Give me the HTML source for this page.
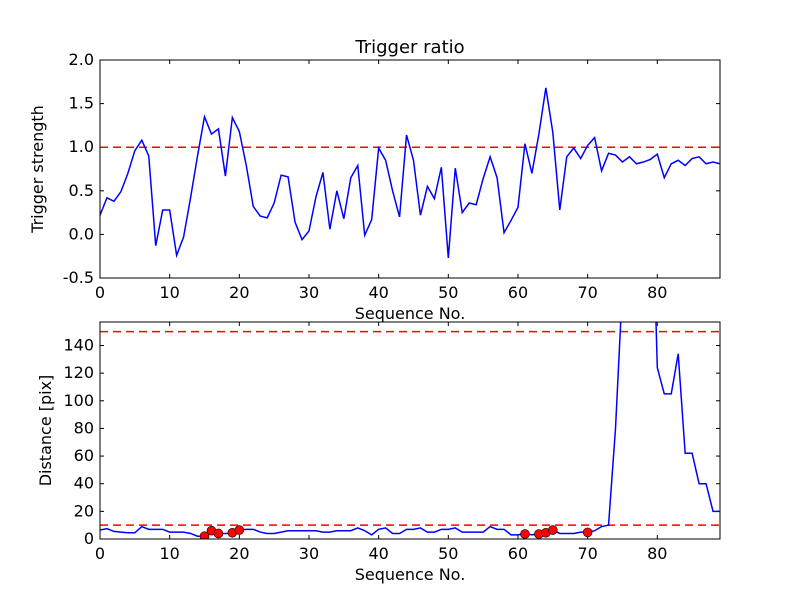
<!DOCTYPE html>
<html><head><meta charset="utf-8"><style>
body{margin:0;background:#fff}
svg{display:block;font-family:"DejaVu Sans","Liberation Sans",sans-serif}
</style></head><body>
<svg id="chart" width="800" height="600" xmlns="http://www.w3.org/2000/svg">
<rect width="800" height="600" fill="#fff"/>
<text x="410" y="53" font-size="18" text-anchor="middle">Trigger ratio</text>
<g id="top"></g>
<g id="bot"></g>
</svg>
<script>
const seqTop = Array.from({length:90},(_,i)=>i);
const triggerStrength = [0.22,0.42,0.38,0.49,0.7,0.96,1.08,0.9,-0.13,0.28,0.28,-0.24,-0.03,0.42,0.9,1.35,1.15,1.21,0.67,1.34,1.18,0.79,0.32,0.21,0.19,0.36,0.68,0.66,0.14,-0.06,0.04,0.43,0.71,0.06,0.5,0.18,0.65,0.79,-0.01,0.17,0.99,0.85,0.5,0.2,1.14,0.85,0.22,0.55,0.41,0.77,-0.27,0.76,0.25,0.36,0.34,0.64,0.89,0.65,0.02,0.16,0.31,1.04,0.7,1.15,1.68,1.17,0.28,0.89,0.99,0.87,1.02,1.11,0.73,0.93,0.91,0.83,0.89,0.81,0.83,0.86,0.92,0.65,0.81,0.85,0.79,0.87,0.89,0.81,0.83,0.81];
const distance = [6.5,7.5,5.5,5,4.5,4.5,9,7,7,7,5,5,5,4,2,2,6,4,4,4,6.5,7,7,5,4,4,5,6,6,6,6,6,5,5,6,6,6,8,6,3,7,8,4,4,7,7,8,5,5,7,7,8,5,5,5,5,9,7,7,3,3,4,3,4,4,6.5,4,4,4,5,5,6,9,10,80,183,190,158,158,300,124,105,105,134,62,62,40,40,20,20];
const markerSeq = [15,16,17,19,20,61,63,64,65,70];
const markerDist = [2,6,4,4.5,6.5,3.6,3.6,4.5,6.5,4.8];
const topTicksY = [-0.5,0.0,0.5,1.0,1.5,2.0];
const botTicksY = [0,20,40,60,80,100,120,140];
const ticksX = [0,10,20,30,40,50,60,70,80];
const topThreshold = [1.0];
const botThresholds = [10,150];

const NS="http://www.w3.org/2000/svg";
function mk(parent,tag,attrs){const e=document.createElementNS(NS,tag);for(const k in attrs)e.setAttribute(k,attrs[k]);parent.appendChild(e);return e;}

function panel(g,L,T,R,B,ymin,ymax,yticks,yfmt,ylabel,ylOff){
  const sx=v=>L+(v-0)/(89-0)*(R-L);
  const sy=v=>B-(v-ymin)/(ymax-ymin)*(B-T);
  const clipId='c'+T;
  const defs=mk(g,'defs',{});
  const cp=mk(defs,'clipPath',{id:clipId});mk(cp,'rect',{x:L,y:T,width:R-L,height:B-T});
  ticksX.forEach(t=>{
    const x=sx(t);
    const tk=mk(g,'line',{x1:x,x2:x,y1:B,y2:B-4,stroke:'#000'});
    
    
    mk(g,'line',{x1:x,x2:x,y1:T,y2:T+4,stroke:'#000'});
    const tx=mk(g,'text',{x:x,y:B+20,'font-size':16,'text-anchor':'middle'});tx.textContent=t;
    
    
  });
  yticks.forEach(t=>{
    const y=sy(t);
    const tk=mk(g,'line',{x1:L,x2:L+4,y1:y,y2:y,stroke:'#000'});
    
    
    mk(g,'line',{x1:R,x2:R-4,y1:y,y2:y,stroke:'#000'});
    const tx=mk(g,'text',{x:L-6,y:y+5,'font-size':16,'text-anchor':'end'});tx.textContent=yfmt(t);
    
    
  });
  const xl=mk(g,'text',{x:(L+R)/2,y:B+41,'font-size':16,'text-anchor':'middle'});xl.textContent='Sequence No.';
  
  
  const yl=mk(g,'text',{x:0,y:0,'font-size':16,'text-anchor':'middle',transform:`translate(${L-ylOff},${(T+B)/2}) rotate(-90)`});yl.textContent=ylabel;
  
  
  return {sx,sy,clipId};
}

// top
const gt=document.getElementById('top');
const pt=panel(gt,100,60,720,278,-0.5,2.0,topTicksY,v=>v.toFixed(1),'Trigger strength',57);
const plt=mk(gt,'g',{'clip-path':`url(#${pt.clipId})`});
topThreshold.forEach(v=>{const l=mk(plt,'line',{x1:100,x2:720,y1:pt.sy(v),y2:pt.sy(v),stroke:'#f00','stroke-width':1.5,'stroke-dasharray':'8,5'});

});
const lt=mk(plt,'polyline',{fill:'none',stroke:'#00f','stroke-width':1.5,points:triggerStrength.map((v,i)=>pt.sx(seqTop[i])+','+pt.sy(v)).join(' ')});


mk(gt,'rect',{x:100,y:60,width:620,height:218,fill:'none',stroke:'#000'});

// bottom
const gb=document.getElementById('bot');
const pb=panel(gb,100,322,720,539,0,157,botTicksY,v=>String(v),'Distance [pix]',49);
const plb=mk(gb,'g',{'clip-path':`url(#${pb.clipId})`});
botThresholds.forEach(v=>{const l=mk(plb,'line',{x1:100,x2:720,y1:pb.sy(v),y2:pb.sy(v),stroke:'#f00','stroke-width':1.5,'stroke-dasharray':'8,5'});

});
const lb=mk(plb,'polyline',{fill:'none',stroke:'#00f','stroke-width':1.5,points:distance.map((v,i)=>pb.sx(i)+','+pb.sy(v)).join(' ')});


markerSeq.forEach((s,i)=>{const c=mk(plb,'circle',{cx:pb.sx(s),cy:pb.sy(markerDist[i]),r:4.5,fill:'#f00',stroke:'#000','stroke-width':0.6});

});
mk(gb,'rect',{x:100,y:322,width:620,height:217,fill:'none',stroke:'#000'});
</script>
</body></html>
